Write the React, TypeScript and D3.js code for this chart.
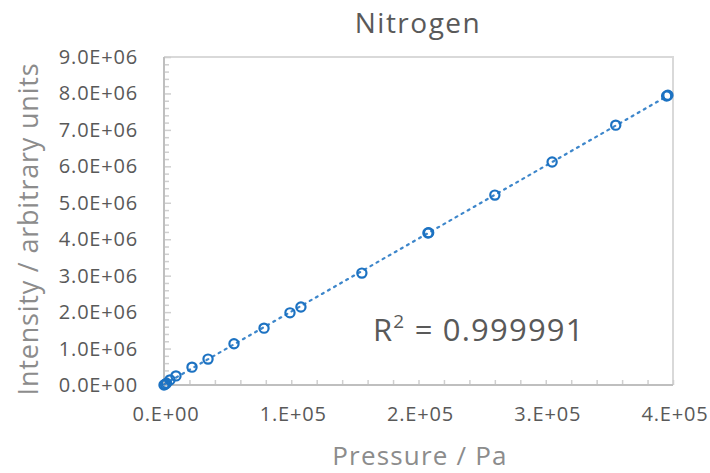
import React, { useEffect, useRef } from 'react';
import * as d3 from 'd3';

// readings taken off the chart (Pa, arbitrary units)
const pressure = [0, 1000, 2000, 4700, 9400, 22000, 34600, 55000, 78600, 99000, 107600, 155500, 207400, 208000, 260000, 305000, 355000, 395000, 396000];
const intensity = [0, 20000, 50000, 140000, 250000, 490000, 710000, 1130000, 1560000, 1980000, 2140000, 3070000, 4170000, 4180000, 5210000, 6120000, 7130000, 7930000, 7950000];

const yTicks = [0, 1e6, 2e6, 3e6, 4e6, 5e6, 6e6, 7e6, 8e6, 9e6];
const xTicks = [0, 1e5, 2e5, 3e5, 4e5];
const title = 'Nitrogen';
const xTitle = 'Pressure  / Pa';
const yTitle = 'Intensity / arbitrary units';
const r2Label = '0.999991';

const W = 710;
const H = 473;
const FONT = "'Open Sans', 'Noto Sans', sans-serif";
const BLUE = '#1c72c2';

function App() {
  const svgRef = useRef<SVGSVGElement>(null);

  useEffect(() => {
    const svg = d3.select(svgRef.current);
    svg.selectAll('*').remove();

    const left = 164, right = 673, top = 57, bottom = 385;
    const x = d3.scaleLinear().domain([0, 4e5]).range([left, right]);
    const y = d3.scaleLinear().domain([0, 9e6]).range([bottom, top]);

    // plot border (top / right)
    svg.append('path')
      .attr('d', `M${left},${top}H${right}V${bottom}`)
      .attr('fill', 'none')
      .attr('stroke', '#d9d9d9')
      .attr('stroke-width', 2);

    // y axis with inside ticks, minor every 2e5
    const yAxis = d3.axisRight(y)
      .tickValues(d3.range(0, 9e6 + 1, 2e5))
      .tickSize(0)
      .tickFormat(() => '');
    const gy = svg.append('g').attr('transform', `translate(${left},0)`).call(yAxis);
    gy.select('.domain').remove();
    gy.selectAll('.tick line').remove();
    gy.selectAll('.tick').append('line')
      .attr('x2', (d: any) => (Math.round(d / 1e5) % 10 === 0 ? 7 : 5))
      .attr('stroke', '#cfcfcf')
      .attr('stroke-width', 1.5);

    // x axis inside ticks, every 2e4
    const gx = svg.append('g').attr('transform', `translate(0,${bottom})`)
      .call(d3.axisTop(x).tickValues(d3.range(2e4, 4e5 + 1, 2e4)).tickSize(5).tickFormat(() => ''));
    gx.select('.domain').remove();
    gx.selectAll('.tick line').attr('stroke', '#cfcfcf').attr('stroke-width', 1.5);

    // axis lines
    svg.append('line').attr('x1', left).attr('x2', left).attr('y1', top).attr('y2', bottom)
      .attr('stroke', '#bfbfbf').attr('stroke-width', 2);
    svg.append('line').attr('x1', left).attr('x2', right).attr('y1', bottom).attr('y2', bottom)
      .attr('stroke', '#bfbfbf').attr('stroke-width', 2);

    // tick labels
    svg.append('g').selectAll('text').data(yTicks).enter().append('text')
      .attr('x', 138).attr('y', (d) => y(d)).attr('dy', '0.35em')
      .attr('text-anchor', 'end')
      .attr('font-family', FONT).attr('font-size', 20).attr('letter-spacing', 0.8).attr('fill', '#595959')
      .text((d) => (d === 0 ? '0.0E+00' : `${(d / 1e6).toFixed(1)}E+06`));

    svg.append('g').selectAll('text').data(xTicks).enter().append('text')
      .attr('x', (d) => x(d) + 2).attr('y', 421)
      .attr('text-anchor', 'middle')
      .attr('font-family', FONT).attr('font-size', 20).attr('letter-spacing', 0.8).attr('fill', '#595959')
      .text((d) => (d === 0 ? '0.E+00' : `${d / 1e5}.E+05`));

    // trendline from least squares fit
    const n = pressure.length;
    const mx = d3.mean(pressure) as number;
    const my = d3.mean(intensity) as number;
    let sxy = 0, sxx = 0;
    for (let i = 0; i < n; i++) {
      sxy += (pressure[i] - mx) * (intensity[i] - my);
      sxx += (pressure[i] - mx) ** 2;
    }
    const slope = sxy / sxx;
    const icpt = my - slope * mx;
    const xMax = d3.max(pressure) as number;
    svg.append('line')
      .attr('x1', x(0)).attr('y1', y(icpt))
      .attr('x2', x(xMax)).attr('y2', y(icpt + slope * xMax))
      .attr('stroke', BLUE).attr('stroke-width', 2.2)
      .attr('stroke-dasharray', '2 5').attr('stroke-linecap', 'round')
      .attr('opacity', 0.85);

    // markers
    svg.append('g').selectAll('circle').data(pressure).enter().append('circle')
      .attr('cx', (d) => x(d)).attr('cy', (d, i) => y(intensity[i]))
      .attr('r', 4.6)
      .attr('fill', 'none')
      .attr('stroke', BLUE).attr('stroke-width', 2.2);

    // titles
    svg.append('text').attr('x', 418).attr('y', 33).attr('text-anchor', 'middle')
      .attr('font-family', FONT).attr('font-size', 28).attr('letter-spacing', 1.5).attr('fill', '#595959').text(title);
    svg.append('text').attr('x', 420).attr('y', 465).attr('text-anchor', 'middle')
      .attr('font-family', FONT).attr('font-size', 26).attr('letter-spacing', 1.2).attr('fill', '#8c8c8c').text(xTitle);
    svg.append('text').attr('transform', 'translate(38,229) rotate(-90)').attr('text-anchor', 'middle')
      .attr('font-family', FONT).attr('font-size', 27).attr('letter-spacing', 0.8).attr('fill', '#8c8c8c').text(yTitle);

    // R² annotation
    const r2 = svg.append('text').attr('x', 373).attr('y', 341)
      .attr('font-family', FONT).attr('font-size', 31).attr('letter-spacing', 1.2).attr('fill', '#595959');
    r2.append('tspan').text('R');
    r2.append('tspan').attr('font-size', 19).attr('dy', -13).text('2');
    r2.append('tspan').attr('dy', 13).text(` = ${r2Label}`);
  }, []);

  return <svg ref={svgRef} width={W} height={H} style={{ display: 'block', position: 'absolute', left: 0, top: 0 }} />;
}

export default App;
